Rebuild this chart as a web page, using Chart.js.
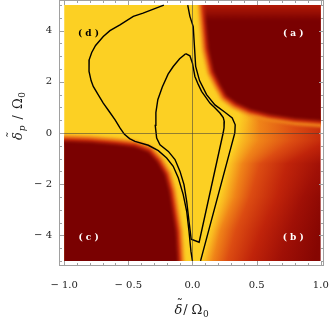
<!DOCTYPE html>
<html>
<head>
<meta charset="utf-8">
<script src="https://cdn.jsdelivr.net/npm/chart.js@4.4.1/dist/chart.umd.min.js"></script>
<style>
  html, body { margin: 0; padding: 0; background: #fff; }
  canvas { display: block; }
</style>
</head>
<body>
<canvas id="chart" width="332" height="319"></canvas>
<script>
// extent of the density plot (data units)
const X_RANGE = [-1, 1];
const Y_RANGE = [-5, 5];

// frame ticks
const X_TICKS = [-1, -0.5, 0, 0.5, 1];
const Y_TICKS = [-4, -2, 0, 2, 4];
const X_MINOR_STEP = 0.1;
const Y_MINOR_STEP = 0.5;

// contour lines
const CURVE_A_X = [-0.223, -0.385, -0.461, -0.565, -0.643, -0.695, -0.755, -0.785, -0.805, -0.806, -0.79, -0.773, -0.735, -0.695, -0.65, -0.604, -0.565, -0.53, -0.49, -0.448, -0.344, -0.266, -0.201, -0.15, -0.11, -0.072, -0.045, -0.027, -0.012, 0.0];
const CURVE_A_Y = [5.0, 4.69, 4.56, 4.23, 4.0, 3.77, 3.42, 3.15, 2.86, 2.41, 2.05, 1.82, 1.5, 1.17, 0.85, 0.52, 0.2, -0.05, -0.22, -0.33, -0.48, -0.69, -0.98, -1.3, -1.76, -2.41, -3.06, -3.84, -4.62, -5.0];

const CURVE_B_X = [-0.037, -0.02, 0.006, 0.014, 0.025, 0.055, 0.11, 0.175, 0.253, 0.31, 0.333, 0.33, 0.063];
const CURVE_B_Y = [5.0, 4.56, 4.16, 3.5, 2.6, 2.05, 1.5, 1.1, 0.81, 0.59, 0.32, 0.0, -5.0];

const CURVE_C_X = [-0.053, -0.02, 0.0, 0.019, 0.045, 0.071, 0.136, 0.18, 0.214, 0.24, 0.248, 0.246, 0.239, 0.052, -0.01, -0.027, -0.045, -0.066, -0.097, -0.136, -0.188, -0.253, -0.279, -0.29, -0.285, -0.27, -0.235, -0.19, -0.15, -0.1, -0.053];
const CURVE_C_Y = [3.1, 3.02, 2.73, 2.21, 1.9, 1.63, 1.17, 0.96, 0.78, 0.6, 0.45, 0.2, 0.0, -4.27, -4.15, -3.45, -2.67, -2.02, -1.5, -1.04, -0.72, -0.46, -0.2, 0.3, 0.8, 1.3, 1.8, 2.3, 2.6, 2.9, 3.1];

// dark region (c), lower left: where the dark red starts
const REGION_C_X = [-1.1, -1.0, -0.8, -0.6, -0.45, -0.34, -0.27, -0.21, -0.175, -0.15, -0.124, -0.11, -0.11, -1.1];
const REGION_C_Y = [-0.30, -0.30, -0.34, -0.43, -0.52, -0.72, -1.11, -1.63, -2.28, -3.06, -3.84, -5.0, -5.5, -5.5];

// dark region (a), upper right
const REGION_A_X = [0.09, 0.09, 0.1, 0.12, 0.16, 0.21, 0.26, 0.34, 0.45, 0.6, 0.8, 1.0, 1.1, 1.1];
const REGION_A_Y = [5.5, 5.0, 4.4, 3.3, 2.4, 1.9, 1.45, 1.15, 0.9, 0.7, 0.55, 0.47, 0.45, 5.5];

// region (b), lower right: x of each colour level along a few rows
const B_ROW_Y = [0.5, -0.3, -1.2, -2.5, -3.8, -5.0];
const B_L100 = [0.36, 0.34, 0.27, 0.21, 0.13, 0.07];
const B_L090 = [0.42, 0.39, 0.31, 0.25, 0.165, 0.10];
const B_L075 = [0.52, 0.52, 0.39, 0.33, 0.22, 0.16];
const B_L060 = [0.80, 0.78, 0.53, 0.45, 0.34, 0.27];
const B_L045 = [1.10, 1.05, 0.74, 0.66, 0.54, 0.45];
const B_L030 = [1.40, 1.35, 1.00, 0.86, 0.76, 0.68];
const B_L015 = [1.70, 1.65, 1.30, 1.08, 1.00, 0.95];

// region labels
const LABEL_TEXT = ['( a )', '( b )', '( c )', '( d )'];
const LABEL_X = [0.785, 0.785, -0.81, -0.81];
const LABEL_Y = [3.9, -4.1, -4.1, 3.9];

// colours
const YELLOW = 'rgb(252,208,35)';
const DARK = 'rgb(122,1,1)';
const B_LEVELS = [B_L100, B_L090, B_L075, B_L060, B_L045, B_L030, B_L015];
const B_COLORS = ['rgb(252,208,35)', 'rgb(249,184,32)', 'rgb(240,132,24)', 'rgb(220,76,18)', 'rgb(192,36,10)', 'rgb(160,16,6)', 'rgb(134,6,2)'];
const LABEL_COLORS = ['#fff', '#fff', '#fff', '#000'];

const SERIF = '"DejaVu Serif", "Liberation Serif", serif';

function toPts(xs, ys) {
  return xs.map(function(x, i) { return { x: x, y: ys[i] }; });
}

function interpAt(rowY, rowX, y) {
  if (y >= rowY[0]) return rowX[0];
  const n = rowY.length - 1;
  if (y <= rowY[n]) return rowX[n];
  for (let i = 0; i < n; i++) {
    if (y <= rowY[i] && y >= rowY[i + 1]) {
      const t = (rowY[i] - y) / (rowY[i] - rowY[i + 1]);
      return rowX[i] + t * (rowX[i + 1] - rowX[i]);
    }
  }
  return rowX[n];
}

function tracePath(ctx, xs, ys, sx, sy) {
  ctx.beginPath();
  xs.forEach(function(x, i) {
    const px = sx.getPixelForValue(x);
    const py = sy.getPixelForValue(ys[i]);
    if (i === 0) ctx.moveTo(px, py); else ctx.lineTo(px, py);
  });
  ctx.closePath();
}

function drawDarkRegion(ctx, xs, ys, sx, sy, fill) {
  ctx.save();
  ctx.filter = 'blur(1.5px)';
  ctx.lineJoin = 'round';
  tracePath(ctx, xs, ys, sx, sy);
  ctx.strokeStyle = 'rgb(242,140,28)';
  ctx.lineWidth = 12;
  ctx.stroke();
  ctx.strokeStyle = 'rgb(205,45,12)';
  ctx.lineWidth = 6;
  ctx.stroke();
  ctx.fillStyle = fill;
  ctx.fill();
  ctx.restore();
}

// density background, drawn from the region data through the chart scales
const densityPlugin = {
  id: 'density',
  beforeDatasetsDraw(chart) {
    const ctx = chart.ctx;
    const sx = chart.scales.x, sy = chart.scales.y;
    const L = sx.getPixelForValue(X_RANGE[0]), R = sx.getPixelForValue(X_RANGE[1]);
    const T = sy.getPixelForValue(Y_RANGE[1]), B = sy.getPixelForValue(Y_RANGE[0]);
    ctx.save();
    ctx.beginPath();
    ctx.rect(L, T, R - L, B - T);
    ctx.clip();

    // region (b): one gradient per pixel row
    const g0 = sx.getPixelForValue(-1), g1 = sx.getPixelForValue(2.2);
    for (let py = Math.floor(T); py < Math.ceil(B); py++) {
      const yv = sy.getValueForPixel(py + 0.5);
      const grad = ctx.createLinearGradient(g0, 0, g1, 0);
      grad.addColorStop(0, YELLOW);
      B_LEVELS.forEach(function(row, k) {
        const t = (sx.getPixelForValue(interpAt(B_ROW_Y, row, yv)) - g0) / (g1 - g0);
        grad.addColorStop(Math.max(0, Math.min(1, t)), B_COLORS[k]);
      });
      grad.addColorStop(1, DARK);
      ctx.fillStyle = grad;
      ctx.fillRect(L, py, R - L, 1);
    }

    // region (c)
    drawDarkRegion(ctx, REGION_C_X, REGION_C_Y, sx, sy, DARK);

    // region (a), a little lighter along the top edge
    const ag = ctx.createLinearGradient(0, sy.getPixelForValue(5), 0, sy.getPixelForValue(4.4));
    ag.addColorStop(0, 'rgb(178,26,6)');
    ag.addColorStop(1, DARK);
    drawDarkRegion(ctx, REGION_A_X, REGION_A_Y, sx, sy, ag);

    ctx.restore();
  },
  afterDatasetsDraw(chart) {
    const ctx = chart.ctx;
    const sx = chart.scales.x, sy = chart.scales.y;
    const a = chart.chartArea;
    ctx.save();
    // axes through the origin
    ctx.strokeStyle = 'rgba(60,60,60,0.55)';
    ctx.lineWidth = 1;
    const x0 = Math.round(sx.getPixelForValue(0)) + 0.5;
    const y0 = Math.round(sy.getPixelForValue(0)) + 0.5;
    ctx.beginPath();
    ctx.moveTo(a.left, y0); ctx.lineTo(a.right, y0);
    ctx.moveTo(x0, a.top); ctx.lineTo(x0, a.bottom);
    ctx.stroke();
    // region labels
    ctx.font = 'bold 9px ' + SERIF;
    ctx.textAlign = 'center';
    ctx.textBaseline = 'middle';
    LABEL_TEXT.forEach(function(t, i) {
      ctx.fillStyle = LABEL_COLORS[i];
      ctx.fillText(t, sx.getPixelForValue(LABEL_X[i]), sy.getPixelForValue(LABEL_Y[i]));
    });
    ctx.restore();
  }
};

// text made of parts; a part with a tilde gets a small "˜" set above it
function drawRich(ctx, parts, cx, baseY) {
  let w = 0;
  parts.forEach(function(p) { ctx.font = p.f; w += (p.pad || 0) + ctx.measureText(p.t).width; });
  let x = cx - w / 2;
  ctx.textAlign = 'left';
  ctx.textBaseline = 'alphabetic';
  parts.forEach(function(p) {
    ctx.font = p.f;
    x += p.pad || 0;
    const pw = ctx.measureText(p.t).width;
    ctx.fillText(p.t, x, baseY + (p.dy || 0));
    if (p.tilde) {
      ctx.font = '12px ' + SERIF;
      ctx.textAlign = 'center';
      ctx.fillText('\u02DC', x + pw / 2 + 1.5, baseY - 6.5);
      ctx.textAlign = 'left';
    }
    x += pw;
  });
}

// frame with inward ticks, and the axis titles
const framePlugin = {
  id: 'frame',
  afterDraw(chart) {
    const ctx = chart.ctx;
    const sx = chart.scales.x, sy = chart.scales.y;
    const a = chart.chartArea;
    ctx.save();
    ctx.strokeStyle = '#a0a0a0';
    ctx.lineWidth = 1;
    const l = Math.round(a.left) + 0.5, r = Math.round(a.right) - 0.5;
    const t = Math.round(a.top) + 0.5, b = Math.round(a.bottom) - 0.5;
    ctx.strokeRect(l, t, r - l, b - t);
    ctx.beginPath();
    const xMinor = [];
    for (let v = X_RANGE[0]; v <= X_RANGE[1] + 1e-9; v += X_MINOR_STEP) xMinor.push(+v.toFixed(3));
    const yMinor = [];
    for (let v = Y_RANGE[0]; v <= Y_RANGE[1] + 1e-9; v += Y_MINOR_STEP) yMinor.push(+v.toFixed(3));
    xMinor.forEach(function(v) {
      const len = X_TICKS.indexOf(v) >= 0 ? 4.5 : 2.5;
      const px = Math.round(sx.getPixelForValue(v)) + 0.5;
      ctx.moveTo(px, b); ctx.lineTo(px, b - len);
      ctx.moveTo(px, t); ctx.lineTo(px, t + len);
    });
    yMinor.forEach(function(v) {
      const len = Y_TICKS.indexOf(v) >= 0 ? 4.5 : 2.5;
      const py = Math.round(sy.getPixelForValue(v)) + 0.5;
      ctx.moveTo(l, py); ctx.lineTo(l + len, py);
      ctx.moveTo(r, py); ctx.lineTo(r - len, py);
    });
    ctx.stroke();

    ctx.fillStyle = '#1a1a1a';
    drawRich(ctx, [
      { t: 'δ', f: 'italic 13px ' + SERIF, tilde: true },
      { t: '/', f: '13px ' + SERIF, pad: 1 },
      { t: 'Ω', f: '13px ' + SERIF, pad: 4 },
      { t: '0', f: '9px ' + SERIF, dy: 3, pad: 0.5 }
    ], (a.left + a.right) / 2, 314);

    ctx.translate(22, 116);
    ctx.rotate(-Math.PI / 2);
    drawRich(ctx, [
      { t: 'δ', f: 'italic 13px ' + SERIF, tilde: true },
      { t: 'p', f: 'italic 9px ' + SERIF, dy: 3, pad: 1 },
      { t: '/', f: '13px ' + SERIF, pad: 6 },
      { t: 'Ω', f: '13px ' + SERIF, pad: 6 },
      { t: '0', f: '9px ' + SERIF, dy: 3, pad: 0.5 }
    ], 0, 0);
    ctx.restore();
  }
};

function fmtX(v) { return (v < 0 ? '\u2212 ' : '') + Math.abs(v).toFixed(1); }
function fmtY(v) { return (v < 0 ? '\u2212 ' : '') + Math.abs(v); }

const lineStyle = { showLine: true, borderColor: '#000', borderWidth: 1.4, pointRadius: 0, fill: false, tension: 0 };

new Chart(document.getElementById('chart').getContext('2d'), {
  type: 'scatter',
  data: {
    datasets: [
      Object.assign({ label: 'A', data: toPts(CURVE_A_X, CURVE_A_Y) }, lineStyle),
      Object.assign({ label: 'B', data: toPts(CURVE_B_X, CURVE_B_Y) }, lineStyle),
      Object.assign({ label: 'C', data: toPts(CURVE_C_X, CURVE_C_Y) }, lineStyle)
    ]
  },
  options: {
    responsive: false,
    animation: false,
    devicePixelRatio: 1,
    layout: { padding: { top: 0, right: 8, left: 0, bottom: 0 } },
    plugins: { legend: { display: false }, tooltip: { enabled: false } },
    scales: {
      x: {
        type: 'linear', min: -1.04, max: 1.025,
        afterBuildTicks: function(s) { s.ticks = X_TICKS.map(function(v) { return { value: v }; }); },
        afterFit: function(s) { s.height = 53; s.paddingLeft = 0; s.paddingRight = 0; },
        grid: { display: false, drawTicks: false },
        border: { display: false },
        ticks: { callback: fmtX, font: { family: SERIF, size: 10 }, color: '#1a1a1a', padding: 13, maxRotation: 0, autoSkip: false }
      },
      y: {
        type: 'linear', min: -5.2, max: 5.2,
        afterBuildTicks: function(s) { s.ticks = Y_TICKS.map(function(v) { return { value: v }; }); },
        afterFit: function(s) { s.width = 59; s.paddingTop = 0; s.paddingBottom = 0; },
        grid: { display: false, drawTicks: false },
        border: { display: false },
        ticks: { callback: fmtY, font: { family: SERIF, size: 10 }, color: '#1a1a1a', padding: 7, autoSkip: false }
      }
    }
  },
  plugins: [densityPlugin, framePlugin]
});
</script>
</body>
</html>
